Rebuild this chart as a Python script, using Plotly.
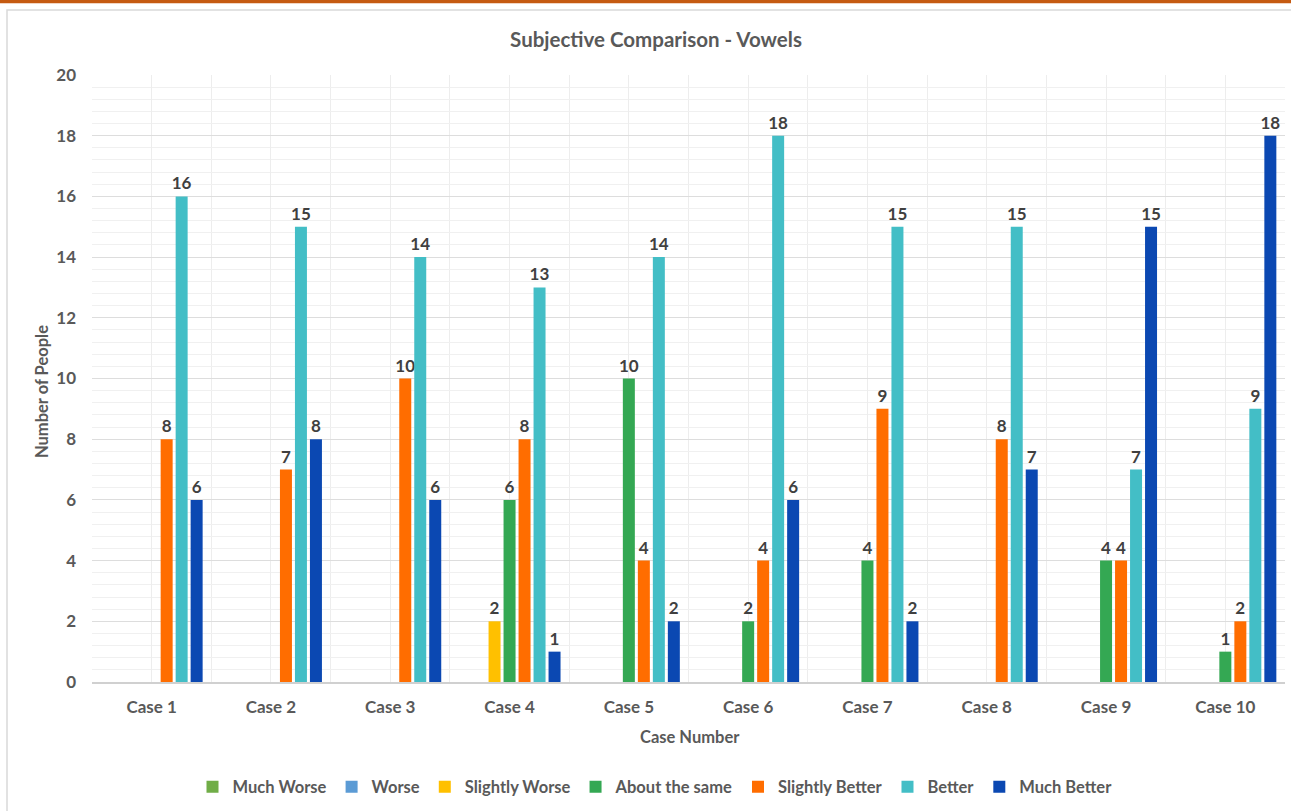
import plotly.graph_objects as go

categories = ["Case 1", "Case 2", "Case 3", "Case 4", "Case 5",
              "Case 6", "Case 7", "Case 8", "Case 9", "Case 10"]

series_names = ["Much Worse", "Worse", "Slightly Worse", "About the same",
                "Slightly Better", "Better", "Much Better"]

much_worse      = [0, 0, 0, 0, 0, 0, 0, 0, 0, 0]
worse           = [0, 0, 0, 0, 0, 0, 0, 0, 0, 0]
slightly_worse  = [0, 0, 0, 2, 0, 0, 0, 0, 0, 0]
about_the_same  = [0, 0, 0, 6, 10, 2, 4, 0, 4, 1]
slightly_better = [8, 7, 10, 8, 4, 4, 9, 8, 4, 2]
better          = [16, 15, 14, 13, 14, 18, 15, 15, 7, 9]
much_better     = [6, 8, 6, 1, 2, 6, 2, 7, 15, 18]

y_ticks = [0, 2, 4, 6, 8, 10, 12, 14, 16, 18, 20]

series_values = [much_worse, worse, slightly_worse, about_the_same,
                 slightly_better, better, much_better]
series_colors = ["#70AD47", "#5B9BD5", "#FFC000", "#34A853",
                 "#FF6D00", "#43BEC6", "#0B48B2"]

FONT = "Lato"
GREY = "#595959"
LABEL_SIZE = 17

x_pos = list(range(len(categories)))

fig = go.Figure()
for name, vals, col in zip(series_names, series_values, series_colors):
    fig.add_trace(go.Bar(
        x=x_pos, y=vals, name=name,
        marker=dict(color=col, line=dict(width=0)),
        text=[str(v) if v else "" for v in vals],
        textposition="outside",
        textfont=dict(family=FONT, size=LABEL_SIZE, color="#404040", weight="bold"),
        cliponaxis=False,
    ))

L, R, T, B = 92, 6, 75, 129
W, H = 1291, 811
pw, ph = W - L - R, H - T - B

def px_x(p):
    return (p - L) / pw

def px_y(p):
    return (H - B - p) / ph

fig.update_layout(
    width=W, height=H,
    margin=dict(l=L, r=R, t=T, b=B),
    paper_bgcolor="white", plot_bgcolor="white",
    barmode="group", bargap=0.12, bargroupgap=0.2,
    font=dict(family=FONT, color=GREY),
    title=dict(text="<b>Subjective Comparison - Vowels</b>",
               x=656 / W, xanchor="center", y=1 - 40 / H, yanchor="middle",
               font=dict(family=FONT, size=20.5, color=GREY)),
    legend=dict(orientation="h", x=px_x(655), xanchor="center",
                y=px_y(787), yanchor="middle",
                font=dict(family=FONT, size=16.5, color=GREY, weight="bold"),
                itemwidth=30, traceorder="normal"),
    uniformtext=dict(mode="show", minsize=LABEL_SIZE),
)

fig.update_xaxes(
    range=[-0.5, len(categories) - 0.5],
    tickmode="array", tickvals=x_pos, ticktext=categories,
    tickfont=dict(family=FONT, size=17, color=GREY, weight="bold"),
    ticks="", ticklabelstandoff=9,
    showgrid=True, gridcolor="#EDEDED", gridwidth=1,
    minor=dict(tick0=-0.5, dtick=1, showgrid=True, gridcolor="#EDEDED", gridwidth=1),
    showline=True, linecolor="#D0D0D0", linewidth=2,
    zeroline=False,
)

fig.update_yaxes(
    range=[0, 20], tickmode="array", tickvals=y_ticks,
    tickfont=dict(family=FONT, size=17, color=GREY, weight="bold"),
    ticks="", ticklabelstandoff=15,
    showgrid=True, gridcolor="#DDDDDD", gridwidth=1,
    minor=dict(tick0=0, dtick=0.4, showgrid=True, gridcolor="#F0F0F0", gridwidth=1),
    zeroline=False, showline=False,
)

# axis titles
fig.add_annotation(text="<b>Case Number</b>", xref="paper", yref="paper",
                   x=px_x(690), y=px_y(737), showarrow=False,
                   font=dict(family=FONT, size=16.5, color=GREY),
                   xanchor="center", yanchor="middle")
fig.add_annotation(text="<b>Number of People</b>", xref="paper", yref="paper",
                   x=px_x(42), y=px_y(392), showarrow=False, textangle=-90,
                   font=dict(family=FONT, size=16.5, color=GREY),
                   xanchor="center", yanchor="middle")

# chart frame and accent strip along the top
fig.add_shape(type="rect", xref="paper", yref="paper",
              x0=px_x(7), x1=px_x(1300), y0=px_y(830), y1=px_y(10),
              line=dict(color="#D9D9D9", width=1.5), fillcolor="rgba(0,0,0,0)",
              layer="below")
fig.add_shape(type="line", xref="paper", yref="paper",
              x0=px_x(-5), x1=px_x(1300), y0=px_y(1.5), y1=px_y(1.5),
              line=dict(color="#C55A11", width=3.5))

fig.write_html("out.html")
